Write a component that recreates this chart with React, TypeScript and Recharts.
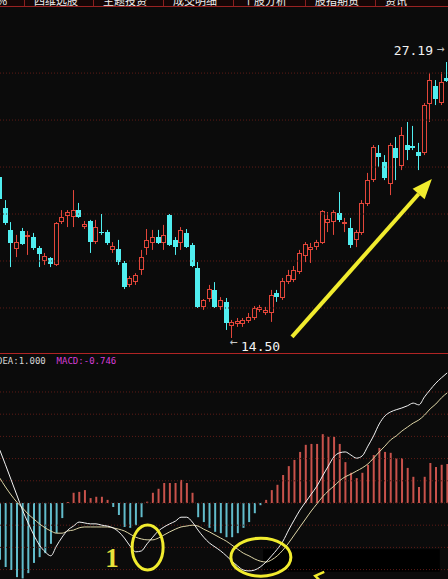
import React from 'react';
import {
  ComposedChart,
  Bar,
  Line,
  XAxis,
  YAxis,
  ReferenceLine,
  ReferenceDot,
  ReferenceArea,
  Cell,
} from 'recharts';

// ---- daily candles (price) ----
const opens = [
  21.9, 20.48, 19.47, 18.59, 19.42, 19.14, 19.14, 18.64, 18.04, 18.18,
  17.86, 19.83, 20.11, 20.06, 20.38, 19.6, 19.88, 18.91, 19.37, 19.37,
  18.55, 18.59, 17.95, 16.94, 17.07, 17.63, 18.64, 18.87, 19.14, 18.87,
  20.15, 19.01, 18.87, 19.33, 18.78, 17.72, 15.93, 16.29, 16.71, 15.93,
  16.16, 15.06, 15.15, 15.15, 15.28, 15.42, 15.79, 15.65, 15.65, 16.57,
  16.34, 17.07, 17.17, 17.53, 18.27, 18.55, 18.68, 18.87, 19.79, 19.83,
  20.25, 19.74, 19.56, 19.01, 19.33, 20.66, 21.76, 23.01, 22.59, 21.58,
  23.24, 22.41, 23.37, 23.33, 23.05, 23.01, 25.26, 26.09, 25.3, 26.45,
];
const closes = [
  20.89, 19.79, 18.87, 18.91, 18.82, 19.24, 18.64, 18.36, 18.27, 17.9,
  19.79, 20.06, 20.29, 20.38, 20.06, 19.74, 18.91, 19.6, 19.33, 18.87,
  18.73, 17.99, 16.84, 17.26, 17.4, 18.22, 19.01, 19.14, 18.87, 19.24,
  18.78, 18.68, 19.47, 18.68, 17.81, 15.93, 16.25, 16.75, 15.93, 16.25,
  15.19, 15.24, 15.28, 15.33, 15.47, 15.88, 15.93, 15.79, 16.48, 16.38,
  17.12, 17.4, 17.63, 18.41, 18.82, 18.68, 18.91, 20.34, 19.97, 20.29,
  19.93, 19.83, 18.78, 19.37, 20.71, 21.76, 23.28, 22.82, 21.86, 23.37,
  22.78, 23.83, 23.14, 23.24, 22.87, 25.21, 26.36, 25.49, 26.27, 26.32,
];
const highs = [
  21.99, 20.84, 19.83, 19.24, 19.56, 19.42, 19.33, 18.73, 18.41, 18.22,
  19.83, 20.38, 20.38, 21.3, 20.71, 19.88, 19.93, 19.93, 20.2, 19.47,
  18.91, 19.01, 18.04, 17.35, 17.48, 18.55, 19.51, 19.47, 19.47, 19.7,
  20.2, 19.14, 19.6, 19.51, 18.87, 17.99, 16.29, 16.94, 17.07, 16.38,
  16.34, 15.33, 15.42, 15.42, 15.65, 15.97, 16.02, 15.93, 16.71, 16.71,
  17.26, 17.63, 17.81, 18.55, 18.91, 18.87, 19.01, 20.38, 20.29, 20.38,
  21.21, 20.02, 20.02, 19.47, 20.84, 22.09, 23.37, 23.37, 22.91, 23.47,
  23.74, 24.2, 24.43, 24.25, 23.47, 25.3, 26.68, 26.36, 26.73, 27.19,
];
const lows = [
  20.8, 19.7, 17.76, 18.22, 18.78, 18.32, 18.55, 17.76, 17.86, 17.76,
  17.81, 19.74, 19.6, 19.6, 20.02, 19.51, 18.41, 18.82, 19.24, 18.78,
  18.41, 17.86, 16.75, 16.84, 16.94, 17.4, 18.32, 18.55, 18.82, 18.55,
  18.73, 18.32, 18.55, 18.64, 17.76, 15.88, 15.79, 16.16, 15.88, 15.79,
  14.87, 14.5, 15.01, 15.01, 15.19, 15.33, 15.7, 15.56, 15.24, 16.16,
  16.25, 16.98, 17.07, 17.44, 17.99, 17.95, 18.55, 18.82, 19.37, 19.24,
  19.83, 19.37, 18.64, 18.68, 19.24, 20.57, 21.67, 22.36, 21.76, 21.07,
  21.76, 22.22, 22.68, 23.14, 22.22, 22.91, 24.43, 25.21, 25.21, 26.27,
];

// ---- MACD indicator ----
const macdHist = [
  -1.28, -1.44, -1.51, -1.67, -1.7, -1.58, -1.35, -1.22, -1.13, -0.92,
  -0.68, -0.34, 0.02, 0.23, 0.25, 0.29, 0.11, 0.14, 0.14, 0.07,
  -0.09, -0.27, -0.54, -0.56, -0.5, -0.32, 0.03, 0.23, 0.32, 0.45,
  0.45, 0.45, 0.52, 0.45, 0.23, -0.32, -0.43, -0.56, -0.65, -0.68,
  -0.77, -0.77, -0.68, -0.56, -0.43, -0.23, -0.05, 0.07, 0.29, 0.41,
  0.63, 0.83, 0.97, 1.15, 1.31, 1.33, 1.33, 1.55, 1.49, 1.49,
  1.33, 0.92, 0.68, 0.56, 0.68, 0.86, 1.08, 1.24, 1.15, 1.13,
  1.01, 1.01, 0.79, 0.59, 0.36, 0.59, 0.9, 0.81, 0.86, 0.88,
];
const difLine = [
  1.19, 0.86, 0.52, 0.18, -0.16, -0.45, -0.72, -0.95, -1.1, -1.19,
  -0.97, -0.77, -0.61, -0.52, -0.43, -0.45, -0.47, -0.47, -0.5, -0.52,
  -0.56, -0.65, -0.79, -0.97, -1.1, -1.08, -0.92, -0.77, -0.63, -0.54,
  -0.47, -0.41, -0.32, -0.32, -0.43, -0.61, -0.77, -0.9, -0.99, -1.08,
  -1.19, -1.31, -1.42, -1.51, -1.53, -1.51, -1.44, -1.33, -1.19, -1.04,
  -0.86, -0.61, -0.38, -0.16, 0.02, 0.2, 0.38, 0.61, 0.83, 1.04,
  1.13, 1.15, 1.08, 1.01, 1.06, 1.28, 1.51, 1.78, 1.96, 2.05,
  2.1, 2.14, 2.19, 2.25, 2.21, 2.39, 2.55, 2.7, 2.82, 2.93,
];
const deaLine = [
  0.56, 0.36, 0.18, 0.02, -0.11, -0.25, -0.36, -0.47, -0.56, -0.63,
  -0.68, -0.68, -0.63, -0.61, -0.56, -0.54, -0.54, -0.54, -0.54, -0.54,
  -0.56, -0.59, -0.63, -0.7, -0.77, -0.81, -0.83, -0.83, -0.79, -0.72,
  -0.65, -0.59, -0.54, -0.52, -0.5, -0.52, -0.59, -0.65, -0.72, -0.79,
  -0.86, -0.95, -1.04, -1.13, -1.19, -1.26, -1.31, -1.33, -1.28, -1.19,
  -1.06, -0.9, -0.72, -0.54, -0.36, -0.18, -0.02, 0.14, 0.27, 0.38,
  0.5, 0.59, 0.65, 0.72, 0.79, 0.88, 1.01, 1.15, 1.28, 1.42,
  1.51, 1.62, 1.71, 1.8, 1.87, 1.98, 2.12, 2.23, 2.37, 2.48,
];

// ---- grid levels and header texts ----
const priceGrid = [15.88, 18.04, 20.2, 22.36, 24.52, 26.68];
const macdGrid = [-1.5, -1, -0.5, 0, 0.5, 1, 1.5, 2, 2.5];
const tabLabels = ['%', '四维选股', '主题投资', '成交明细', '个股分析', '股指期货', '资讯'];
const deaText = 'DEA:1.000';
const macdText = 'MACD:-0.746';

// hand-drawn notes, anchored in data space (bar index, value)
const trendArrow = [{ x: 51.6, y: 14.55 }, { x: 76.3, y: 21.81 }];
const crossMarkA = { x: 26.1, y: -1.0 };
const crossLabelA = { x: 19.8, y: -1.24, text: '1' };
const crossMarkB = { x: 46.1, y: -1.22 };
const coverBox = { x1: 46.5, x2: 77.7, y1: -1.04, y2: -1.55 };
const smallArrow = { x: 55.7, y: -1.62 };

const BG = '#0b0b0b';
const RED = '#e2463a';
const CYAN = '#50eef0';
const GRID = '#5e1c17';
const YELLOW = '#f1ec2e';
const MONO = '"DejaVu Sans Mono", monospace';

const candles = opens.map((o, i) => ({
  i,
  open: o,
  close: closes[i],
  high: highs[i],
  low: lows[i],
  range: [lows[i], highs[i]],
}));
const macdRows = macdHist.map((m, i) => ({ i, macd: m, dif: difLine[i], dea: deaLine[i] }));

const MAX_HIGH = Math.max(...highs);
const MIN_LOW = Math.min(...lows);

function Candle(props: any) {
  const { x, y, width, height, payload } = props;
  if (!payload || x == null || y == null) return null;
  const { open, close, high, low } = payload;
  const top = Math.min(y, y + height);
  const span = Math.abs(height);
  const k = span / (high - low);
  const py = (v: number) => top + (high - v) * k;
  const cx = Math.floor(x + width / 2) + 0.5;
  const up = close > open;
  const color = up ? RED : CYAN;
  const bTop = Math.round(py(Math.max(open, close)));
  const bBot = Math.max(Math.round(py(Math.min(open, close))), bTop + 1);
  const yH = py(high);
  const yL = py(low);
  return (
    <g>
      {up ? (
        <g>
          <line x1={cx} x2={cx} y1={yH} y2={bTop} stroke={color} strokeWidth={1} />
          <line x1={cx} x2={cx} y1={bBot} y2={yL} stroke={color} strokeWidth={1} />
          <rect
            x={cx - 2}
            y={bTop + 0.5}
            width={4}
            height={Math.max(bBot - bTop - 1, 0.5)}
            fill={BG}
            stroke={color}
            strokeWidth={1}
          />
        </g>
      ) : (
        <g>
          <line x1={cx} x2={cx} y1={yH} y2={yL} stroke={color} strokeWidth={1} />
          <rect x={cx - 2.5} y={bTop} width={5} height={bBot - bTop} fill={color} />
        </g>
      )}
      {high === MAX_HIGH && (
        <g fontFamily={MONO} fontSize={13}>
          <text x={cx - 13.5} y={yH - 7} textAnchor="end" fill="#f2f2f2">
            {high.toFixed(2)}
          </text>
          <text x={cx - 9.5} y={yH - 9} fill="#bdbdbd">
            →
          </text>
        </g>
      )}
      {low === MIN_LOW && (
        <g fontFamily={MONO} fontSize={13}>
          <text x={cx - 1.5} y={yL + 8} fill="#c8c8c8">
            ←
          </text>
          <text x={cx + 9.5} y={yL + 13} fill="#f2f2f2">
            {low.toFixed(2)}
          </text>
        </g>
      )}
    </g>
  );
}

function ArrowShape(p: any) {
  const { x1, y1, x2, y2 } = p;
  if (x1 == null) return null;
  const ang = Math.atan2(y2 - y1, x2 - x1);
  const cos = Math.cos(ang);
  const sin = Math.sin(ang);
  const headLen = 20;
  const headW = 8;
  const bx = x2 - headLen * cos;
  const by = y2 - headLen * sin;
  const nx = -sin;
  const ny = cos;
  return (
    <g>
      <line x1={x1} y1={y1} x2={bx} y2={by} stroke={YELLOW} strokeWidth={4} />
      <polygon
        points={`${x2},${y2} ${bx + nx * headW},${by + ny * headW} ${bx - nx * headW},${by - ny * headW}`}
        fill={YELLOW}
      />
    </g>
  );
}

const ellipseShape = (rx: number, ry: number) => (p: any) =>
  p.cx == null ? <g /> : (
    <ellipse cx={p.cx} cy={p.cy} rx={rx} ry={ry} fill="none" stroke={YELLOW} strokeWidth={3} />
  );

const labelShape = (text: string) => (p: any) =>
  p.cx == null ? <g /> : (
    <text
      x={p.cx}
      y={p.cy + 9}
      textAnchor="middle"
      fill="#e8e23a"
      fontSize={27}
      fontWeight="bold"
      fontFamily='"Liberation Serif", serif'
    >
      {text}
    </text>
  );

const chevronShape = (p: any) =>
  p.cx == null ? <g /> : (
    <polyline
      points={`${p.cx + 9},${p.cy - 3} ${p.cx},${p.cy + 1} ${p.cx + 5},${p.cy + 6}`}
      fill="none"
      stroke={YELLOW}
      strokeWidth={2.5}
    />
  );

function TabBar() {
  const edges = [-20, 24, 93, 163, 233, 305, 375, 425];
  return (
    <div
      style={{
        position: 'absolute',
        left: 0,
        top: 0,
        width: 448,
        height: 7,
        overflow: 'hidden',
        background: '#140606',
        borderBottom: '1px solid #9a2222',
        boxSizing: 'border-box',
      }}
    >
      {tabLabels.map((t, k) => (
        <div
          key={t}
          style={{
            position: 'absolute',
            left: edges[k],
            width: edges[k + 1] - edges[k],
            top: -6,
            height: 13,
            borderLeft: k === 0 ? 'none' : '1px solid #8a1f1f',
            boxSizing: 'border-box',
            paddingLeft: k === 0 ? 0 : 9,
            color: '#f0f0f0',
            fontFamily: '"Noto Sans CJK SC", sans-serif',
            fontSize: 11,
            lineHeight: '12px',
            textAlign: k === 0 ? 'center' : 'left',
            whiteSpace: 'nowrap',
          }}
        >
          {t}
        </div>
      ))}
    </div>
  );
}

export default function App() {
  return (
    <div
      style={{
        position: 'absolute',
        left: 0,
        top: 0,
        width: 448,
        height: 579,
        background: BG,
        overflow: 'hidden',
      }}
    >
      {/* price panel */}
      <div style={{ position: 'absolute', left: -3, top: 0 }}>
        <ComposedChart width={453} height={353} data={candles} margin={{ top: 0, right: 0, bottom: 0, left: 0 }}>
          <XAxis dataKey="i" type="number" domain={[-0.5, 79.5]} hide allowDataOverflow />
          <YAxis type="number" domain={[13.81, 30.04]} hide allowDataOverflow />
          {priceGrid.map((v) => (
            <ReferenceLine key={v} y={v} stroke={GRID} strokeDasharray="1 2" />
          ))}
          <Bar dataKey="range" barSize={5} shape={Candle} isAnimationActive={false} />
          <ReferenceLine segment={trendArrow} shape={ArrowShape} />
        </ComposedChart>
      </div>

      <TabBar />

      {/* panel separator */}
      <div style={{ position: 'absolute', left: 0, top: 353, width: 448, height: 1, background: '#b02424' }} />

      {/* MACD panel */}
      <div style={{ position: 'absolute', left: -3, top: 353 }}>
        <ComposedChart width={453} height={226} data={macdRows} margin={{ top: 0, right: 0, bottom: 0, left: 0 }}>
          <XAxis dataKey="i" type="number" domain={[-0.5, 79.5]} hide allowDataOverflow />
          <YAxis type="number" domain={[-1.712, 3.378]} hide allowDataOverflow />
          {macdGrid.map((v) => (
            <ReferenceLine key={v} y={v} stroke={GRID} strokeDasharray="1 2" />
          ))}
          <Bar dataKey="macd" barSize={2} isAnimationActive={false}>
            {macdRows.map((r) => (
              <Cell key={r.i} fill={r.macd >= 0 ? '#c8524b' : '#62bccb'} />
            ))}
          </Bar>
          <Line dataKey="dea" type="monotone" stroke="#ddd5a6" strokeWidth={1} dot={false} isAnimationActive={false} />
          <Line dataKey="dif" type="monotone" stroke="#f2f2f2" strokeWidth={1} dot={false} isAnimationActive={false} />
          <ReferenceDot x={crossMarkA.x} y={crossMarkA.y} shape={ellipseShape(15.5, 22.5)} />
          <ReferenceDot x={crossLabelA.x} y={crossLabelA.y} shape={labelShape(crossLabelA.text)} />
          <ReferenceDot x={crossMarkB.x} y={crossMarkB.y} shape={ellipseShape(30, 19)} />
          <ReferenceArea
            x1={coverBox.x1}
            x2={coverBox.x2}
            y1={coverBox.y1}
            y2={coverBox.y2}
            fill="#000000"
            fillOpacity={1}
            stroke="none"
          />
          <ReferenceDot x={smallArrow.x} y={smallArrow.y} shape={chevronShape} />
        </ComposedChart>
      </div>

      {/* indicator header */}
      <div
        style={{
          position: 'absolute',
          left: -3,
          top: 356,
          fontFamily: MONO,
          fontSize: 9,
          lineHeight: '10px',
          whiteSpace: 'pre',
        }}
      >
        <span style={{ color: '#d6d6d6' }}>{deaText}</span>
        <span style={{ color: '#d63ed6' }}>{'  ' + macdText}</span>
      </div>
    </div>
  );
}
